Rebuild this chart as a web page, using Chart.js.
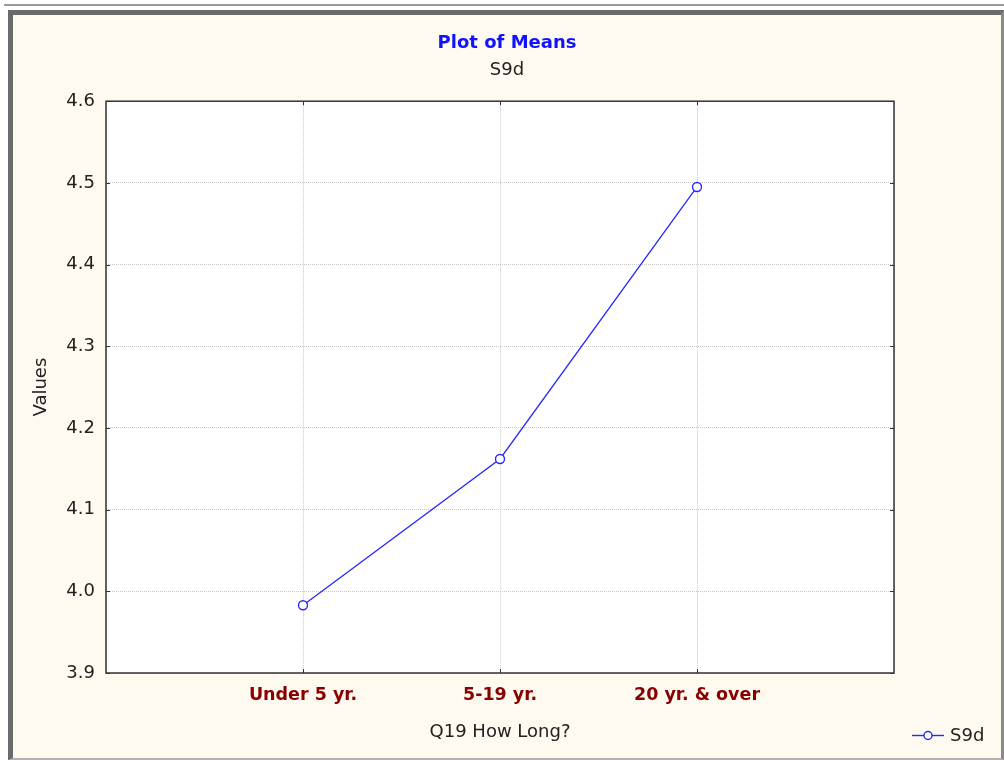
<!DOCTYPE html>
<html lang="en">
  <head>
    <meta charset="UTF-8" />
    <title>Plot of Means</title>
    <style>
      html, body { margin: 0; padding: 0; background: #ffffff; }
      .topline {
        position: absolute; left: 4px; top: 4px; width: 1000px; height: 2px;
        background: #9a9a9a;
      }
      .frame {
        position: absolute; left: 8px; top: 10px; width: 988px; height: 743px;
        border-left: 5px solid #6b6b6b; border-top: 5px solid #6b6b6b;
        border-right: 3px solid #8a8a8a; border-bottom: 2px solid #b0b0b0;
        background: #fffaf0;
      }
      canvas { display: block; }
    </style>
  </head>
  <body>
    <div class="topline"></div>
    <div class="frame">
      <canvas id="chart" width="988" height="743"></canvas>
    </div>

    <script src="https://cdn.jsdelivr.net/npm/chart.js"></script>
    <script>
      // data
      const categories = ["Under 5 yr.", "5-19 yr.", "20 yr. & over"];
      const seriesName = "S9d";
      const meanValues = [3.983, 4.162, 4.495];
      const yTicks = [3.9, 4.0, 4.1, 4.2, 4.3, 4.4, 4.5, 4.6];

      const lineBlue = "#2828ff";
      const fontFamily = "'DejaVu Sans', Verdana, sans-serif";

      // white plot area + dark frame with inner tick marks + legend
      const plotFrame = {
        id: "plotFrame",
        beforeDraw(chart) {
          const { ctx, chartArea: a } = chart;
          ctx.save();
          ctx.fillStyle = "#ffffff";
          ctx.fillRect(a.left, a.top, a.right - a.left, a.bottom - a.top);
          ctx.restore();
        },
        afterDraw(chart) {
          const { ctx, chartArea: a, scales } = chart;
          ctx.save();
          ctx.strokeStyle = "#333333";
          ctx.lineWidth = 1.5;
          ctx.strokeRect(a.left, a.top, a.right - a.left, a.bottom - a.top);
          ctx.lineWidth = 1;
          ctx.beginPath();
          scales.y.ticks.forEach((t) => {
            const py = Math.round(scales.y.getPixelForValue(t.value)) + 0.5;
            ctx.moveTo(a.left, py); ctx.lineTo(a.left + 4, py);
            ctx.moveTo(a.right, py); ctx.lineTo(a.right - 4, py);
          });
          scales.x.ticks.forEach((t) => {
            if (t.value < 1 || t.value > categories.length) return;
            const px = Math.round(scales.x.getPixelForValue(t.value)) + 0.5;
            ctx.moveTo(px, a.top); ctx.lineTo(px, a.top + 4);
            ctx.moveTo(px, a.bottom); ctx.lineTo(px, a.bottom - 4);
          });
          ctx.stroke();

          // legend, bottom right
          const ds = chart.data.datasets[0];
          const ly = 720.5;
          ctx.strokeStyle = ds.borderColor;
          ctx.lineWidth = 1.4;
          ctx.beginPath();
          ctx.moveTo(899, ly); ctx.lineTo(931, ly);
          ctx.stroke();
          ctx.fillStyle = "#ffffff";
          ctx.beginPath();
          ctx.arc(915, ly, 4, 0, Math.PI * 2);
          ctx.fill(); ctx.stroke();
          ctx.fillStyle = "#222222";
          ctx.font = "18px " + fontFamily;
          ctx.textBaseline = "middle";
          ctx.fillText(ds.label, 937, ly + 1);
          ctx.restore();
        },
      };

      new Chart(document.getElementById("chart"), {
        type: "line",
        data: {
          datasets: [
            {
              label: seriesName,
              data: meanValues.map((v, i) => ({ x: i + 1, y: v })),
              borderColor: lineBlue,
              borderWidth: 1.3,
              pointRadius: 4.5,
              pointHoverRadius: 4.5,
              pointBorderWidth: 1.4,
              pointBackgroundColor: "#ffffff",
              pointBorderColor: lineBlue,
              tension: 0,
              fill: false,
            },
          ],
        },
        options: {
          responsive: false,
          animation: false,
          events: [],
          layout: { padding: 0 },
          plugins: {
            legend: { display: false },
            tooltip: { enabled: false },
            title: {
              display: true,
              text: "Plot of Means",
              color: "#1212ff",
              font: { family: fontFamily, size: 18, weight: "bold" },
              padding: { top: 18, bottom: 5 },
            },
            subtitle: {
              display: true,
              text: seriesName,
              color: "#222222",
              font: { family: fontFamily, size: 18 },
              padding: { top: 0, bottom: 20 },
            },
          },
          scales: {
            x: {
              type: "linear",
              min: 0,
              max: categories.length + 1,
              afterBuildTicks(scale) {
                scale.ticks = [0, 1, 2, 3, 4].map((v) => ({ value: v }));
              },
              afterFit(scale) {
                scale.height = 85;
              },
              ticks: {
                autoSkip: false,
                maxRotation: 0,
                padding: 12,
                color: "#880000",
                font: { family: fontFamily, size: 17.5, weight: "bold" },
                callback: (v) => categories[v - 1] ?? "",
              },
              grid: {
                drawTicks: false,
                color: "#c8c8c8",
                lineWidth: 1,
              },
              border: { display: false, dash: [1, 1] },
              title: {
                display: true,
                text: "Q19 How Long?",
                color: "#222222",
                font: { family: fontFamily, size: 18 },
                padding: { top: 10, bottom: 15 },
              },
            },
            y: {
              min: yTicks[0],
              max: yTicks[yTicks.length - 1],
              afterBuildTicks(scale) {
                scale.ticks = yTicks.map((v) => ({ value: v }));
              },
              afterFit(scale) {
                scale.width = 93;
              },
              ticks: {
                padding: 11,
                color: "#222222",
                font: { family: fontFamily, size: 18 },
                callback: (v) => Number(v).toFixed(1),
              },
              grid: {
                drawTicks: false,
                color: "#c8c8c8",
                lineWidth: 1,
              },
              border: { display: false, dash: [1, 1] },
              title: {
                display: true,
                text: "Values",
                color: "#222222",
                font: { family: fontFamily, size: 18 },
                padding: { top: 18, bottom: 10 },
              },
            },
            // empty right-hand axis, only reserves the space where the legend sits
            yRight: {
              position: "right",
              display: true,
              grid: { display: false },
              ticks: { display: false },
              border: { display: false },
              afterFit(scale) {
                scale.width = 107;
              },
            },
          },
        },
        plugins: [plotFrame],
      });
    </script>
  </body>
</html>
